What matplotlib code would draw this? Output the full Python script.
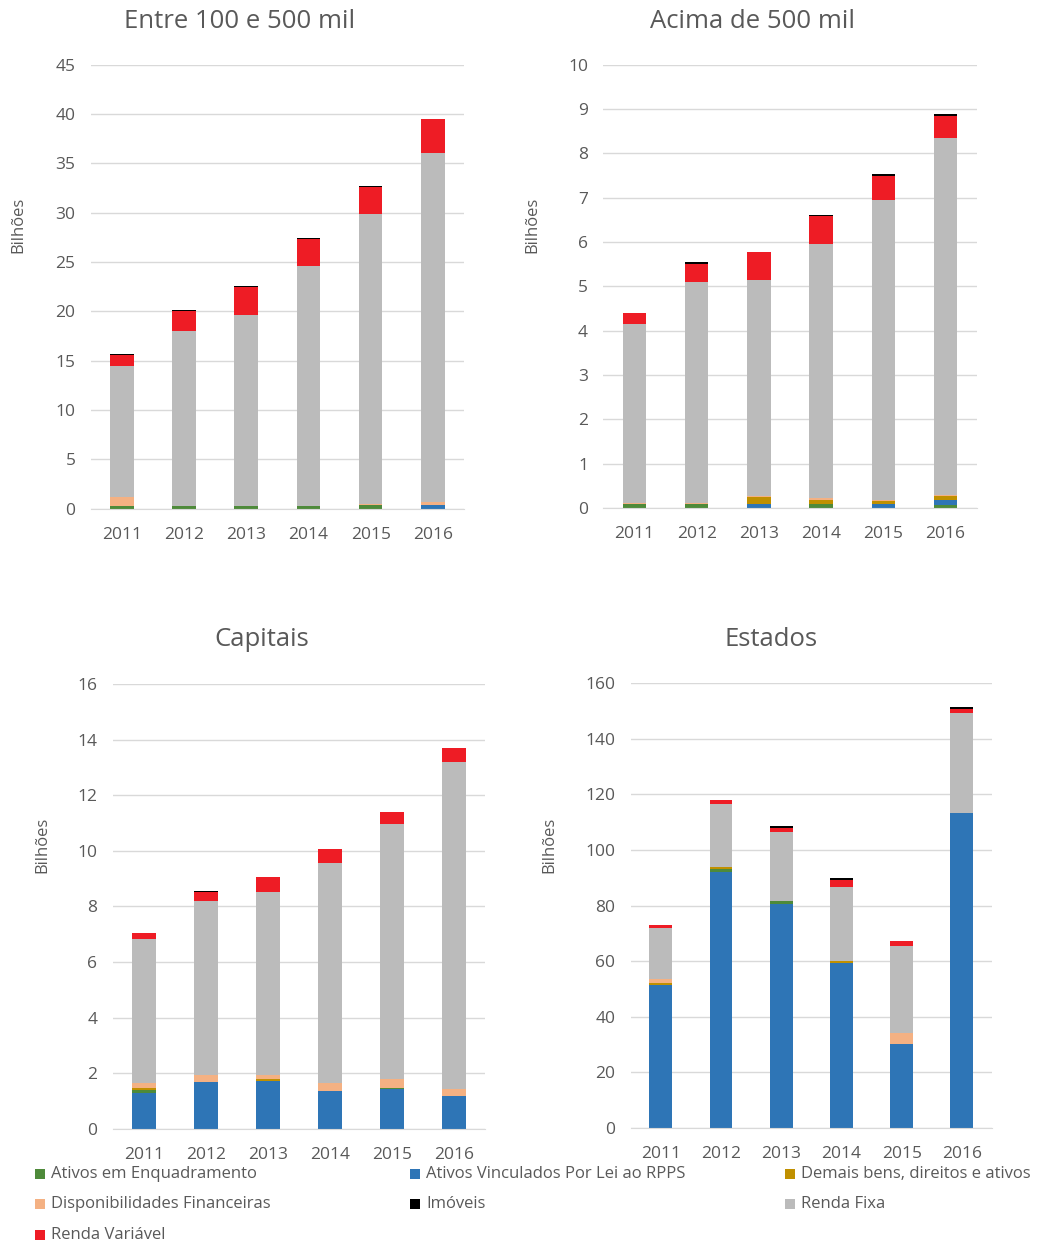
import matplotlib
matplotlib.use("Agg")
import matplotlib.pyplot as plt
from matplotlib.patches import Rectangle
import numpy as np

plt.rcParams['font.family'] = ['Open Sans', 'DejaVu Sans']

years = ["2011", "2012", "2013", "2014", "2015", "2016"]

series_names = ["Ativos em Enquadramento", "Ativos Vinculados Por Lei ao RPPS",
                "Demais bens, direitos e ativos", "Disponibilidades Financeiras",
                "Imóveis", "Renda Fixa", "Renda Variável"]

# Entre 100 e 500 mil (bilhões)
entre_enquadramento = [0.30, 0.25, 0.25, 0.25, 0.40, 0.00]
entre_vinculados    = [0.00, 0.00, 0.00, 0.00, 0.00, 0.40]
entre_demais        = [0.00, 0.00, 0.00, 0.00, 0.00, 0.00]
entre_disponib      = [0.90, 0.00, 0.00, 0.00, 0.05, 0.30]
entre_imoveis       = [0.12, 0.12, 0.12, 0.12, 0.12, 0.00]
entre_renda_fixa    = [13.30, 17.80, 19.42, 24.33, 29.45, 35.30]
entre_renda_var     = [1.10, 1.98, 2.80, 2.77, 2.73, 3.46]

# Acima de 500 mil
acima_enquadramento = [0.08, 0.08, 0.00, 0.10, 0.00, 0.06]
acima_vinculados    = [0.00, 0.00, 0.10, 0.00, 0.08, 0.13]
acima_demais        = [0.00, 0.00, 0.15, 0.08, 0.08, 0.07]
acima_disponib      = [0.04, 0.04, 0.03, 0.04, 0.03, 0.03]
acima_imoveis       = [0.00, 0.04, 0.00, 0.03, 0.03, 0.05]
acima_renda_fixa    = [4.02, 4.98, 4.86, 5.73, 6.75, 8.05]
acima_renda_var     = [0.27, 0.41, 0.63, 0.64, 0.56, 0.50]

# Capitais
cap_enquadramento = [0.08, 0.00, 0.00, 0.00, 0.03, 0.00]
cap_vinculados    = [1.30, 1.68, 1.73, 1.37, 1.43, 1.16]
cap_demais        = [0.10, 0.00, 0.05, 0.00, 0.00, 0.00]
cap_disponib      = [0.15, 0.27, 0.17, 0.27, 0.33, 0.27]
cap_imoveis       = [0.00, 0.05, 0.00, 0.00, 0.00, 0.00]
cap_renda_fixa    = [5.19, 6.23, 6.58, 7.92, 9.16, 11.77]
cap_renda_var     = [0.22, 0.34, 0.53, 0.51, 0.43, 0.50]

# Estados
est_enquadramento = [0.0, 1.0, 1.0, 0.0, 0.0, 0.0]
est_vinculados    = [51.4, 92.0, 80.5, 59.2, 30.2, 113.4]
est_demais        = [0.9, 0.8, 0.0, 0.8, 0.0, 0.0]
est_disponib      = [1.2, 0.0, 0.0, 0.0, 3.8, 0.0]
est_imoveis       = [0.0, 0.0, 0.7, 0.7, 0.0, 0.5]
est_renda_fixa    = [18.3, 22.6, 24.8, 26.7, 31.3, 35.8]
est_renda_var     = [1.3, 1.4, 1.6, 2.4, 1.9, 1.6]

colors = {
    "enq": "#4E8A3A",
    "vin": "#2E75B6",
    "dem": "#C09000",
    "dis": "#F4B183",
    "imo": "#000000",
    "rf":  "#BBBBBB",
    "rv":  "#EE1C25",
}

panels = [
    dict(title="Entre 100 e 500 mil", pos=[90.7, 64.7, 464.0, 508.6], ymax=45, step=5,
         data=[entre_vinculados, entre_enquadramento, entre_demais, entre_disponib,
               entre_renda_fixa, entre_renda_var, entre_imoveis],
         title_xy=(240, 21), ylab_xy=(18, 225)),
    dict(title="Acima de 500 mil", pos=[603.3, 64.7, 976.7, 508.0], ymax=10, step=1,
         data=[acima_enquadramento, acima_vinculados, acima_demais, acima_disponib,
               acima_renda_fixa, acima_renda_var, acima_imoveis],
         title_xy=(752, 21), ylab_xy=(532, 225)),
    dict(title="Capitais", pos=[112.7, 684.0, 485.0, 1128.7], ymax=16, step=2,
         data=[cap_vinculados, cap_enquadramento, cap_demais, cap_disponib,
               cap_renda_fixa, cap_renda_var, cap_imoveis],
         title_xy=(262, 640), ylab_xy=(42, 845)),
    dict(title="Estados", pos=[630.7, 683.0, 992.0, 1128.0], ymax=160, step=20,
         data=[est_vinculados, est_enquadramento, est_demais, est_disponib,
               est_renda_fixa, est_renda_var, est_imoveis],
         title_xy=(771, 640), ylab_xy=(549, 845)),
]
stack_colors_p1 = [colors["vin"], colors["enq"], colors["dem"], colors["dis"], colors["rf"], colors["rv"], colors["imo"]]
stack_colors_p2 = [colors["enq"], colors["vin"], colors["dem"], colors["dis"], colors["rf"], colors["rv"], colors["imo"]]

W, H = 1039, 1244
fig = plt.figure(figsize=(W / 100, H / 100), dpi=100)
txt = "#595959"

for i, p in enumerate(panels):
    x0, y0, x1, y1 = p["pos"]
    ax = fig.add_axes([x0 / W, 1 - y1 / H, (x1 - x0) / W, (y1 - y0) / H])
    x = np.arange(len(years))
    bottom = np.zeros(len(years))
    cols = stack_colors_p2 if i == 1 else stack_colors_p1
    for vals, c in zip(p["data"], cols):
        v = np.array(vals, dtype=float)
        ax.bar(x, v, bottom=bottom, width=0.38, color=c, linewidth=0, zorder=3)
        bottom += v
    ax.set_xlim(-0.5, len(years) - 0.5)
    ax.set_ylim(0, p["ymax"])
    ax.set_yticks(np.arange(0, p["ymax"] + p["step"] / 2, p["step"]))
    ax.set_xticks(x)
    ax.set_xticklabels(years)
    ax.tick_params(axis="both", length=0, labelsize=12.5, colors=txt)
    ax.tick_params(axis="y", pad=11)
    ax.tick_params(axis="x", pad=13)
    ax.grid(axis="y", color="#D9D9D9", linewidth=1, zorder=0)
    for s in ["top", "right", "left"]:
        ax.spines[s].set_visible(False)
    ax.spines["bottom"].set_color("#D9D9D9")
    ax.spines["bottom"].set_zorder(4)
    tx, ty = p["title_xy"]
    fig.text(tx / W, 1 - ty / H, p["title"], ha="center", va="center", fontsize=18.5, color=txt)
    lx, ly = p["ylab_xy"]
    fig.text(lx / W, 1 - ly / H, "Bilhões", ha="center", va="center", rotation=90, fontsize=12, color=txt)

# Legend (manual, three columns)
legend_colors = [colors["enq"], colors["vin"], colors["dem"], colors["dis"], colors["imo"], colors["rf"], colors["rv"]]
col_x = [35, 410, 785]
row_y = [1174, 1204, 1235]
for k, (name, c) in enumerate(zip(series_names, legend_colors)):
    r, cidx = divmod(k, 3)
    mx, my = col_x[cidx], row_y[r]
    fig.add_artist(Rectangle((mx / W, 1 - (my + 5) / H), 10 / W, 10 / H,
                             transform=fig.transFigure, facecolor=c, edgecolor="none"))
    fig.text((mx + 16) / W, 1 - my / H, name, ha="left", va="center", fontsize=12, color=txt)

fig.savefig("out.png", dpi=100, facecolor="white")
